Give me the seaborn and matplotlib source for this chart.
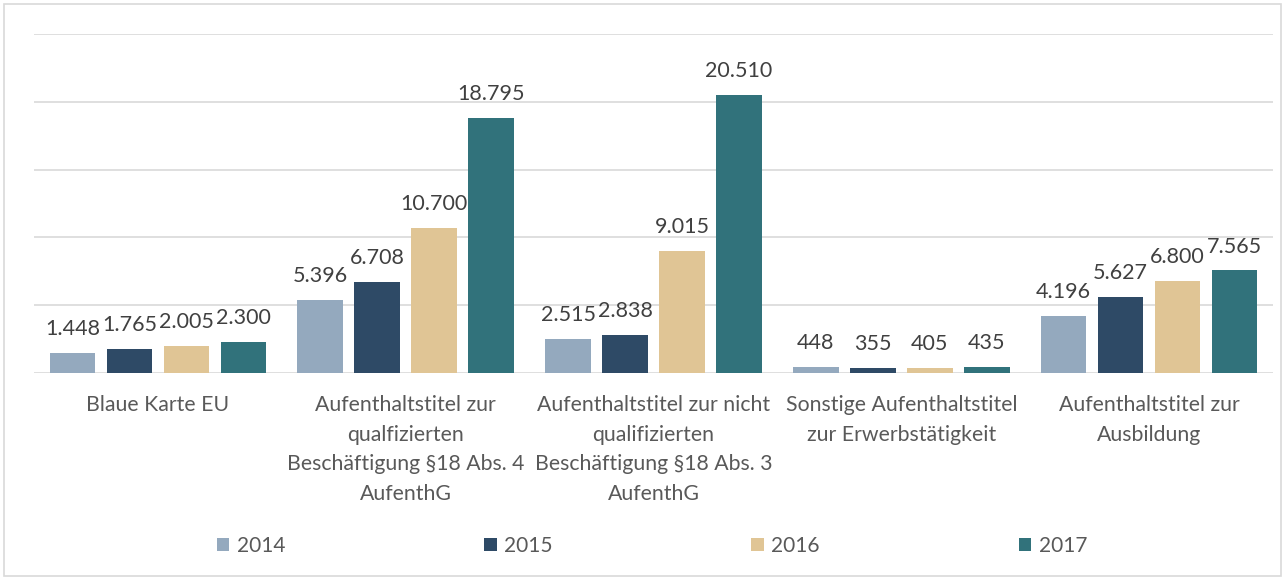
import matplotlib
matplotlib.use("Agg")
import matplotlib.pyplot as plt
import seaborn as sns
import pandas as pd
from matplotlib.patches import Rectangle, Patch

categories = [
    "Blaue Karte EU",
    "Aufenthaltstitel zur\nqualfizierten\nBeschäftigung §18 Abs. 4\nAufenthG",
    "Aufenthaltstitel zur nicht\nqualifizierten\nBeschäftigung §18 Abs. 3\nAufenthG",
    "Sonstige Aufenthaltstitel\nzur Erwerbstätigkeit",
    "Aufenthaltstitel zur\nAusbildung",
]
years = ["2014", "2015", "2016", "2017"]
v2014 = [1448, 5396, 2515, 448, 4196]
v2015 = [1765, 6708, 2838, 355, 5627]
v2016 = [2005, 10700, 9015, 405, 6800]
v2017 = [2300, 18795, 20510, 435, 7565]
colors = ["#94A9BE", "#2E4A66", "#E0C595", "#31727B"]

series = {"2014": v2014, "2015": v2015, "2016": v2016, "2017": v2017}
rows = []
for y in years:
    for c, v in zip(categories, series[y]):
        rows.append({"Kategorie": c, "Jahr": y, "Wert": v})
df = pd.DataFrame(rows)

sns.set_theme(style="white")
plt.rcParams["font.family"] = ["Lato", "DejaVu Sans"]

fig = plt.figure(figsize=(12.85, 5.78), dpi=100)
ax = fig.add_axes([34/1285, 1 - 373/578, (1273 - 34)/1285, (373 - 34)/578])

sns.barplot(data=df, x="Kategorie", y="Wert", hue="Jahr", order=categories,
            hue_order=years, palette=colors, width=0.92, gap=0.2,
            saturation=1, ax=ax, legend=False, edgecolor="none")

ax.set_ylim(0, 25000)
ax.set_xlim(-0.5, len(categories) - 0.5)
ax.set_yticks(range(0, 25001, 5000))
ax.yaxis.grid(True, color="#D9D9D9", linewidth=1.2)
ax.set_axisbelow(True)
ax.set_yticklabels([])
ax.tick_params(axis="y", length=0)
ax.tick_params(axis="x", length=0, pad=16, labelsize=15.3, labelcolor="#595959")
for lbl in ax.get_xticklabels():
    lbl.set_linespacing(1.6)
ax.set_xlabel("")
ax.set_ylabel("")
for s in ["top", "right", "left", "bottom"]:
    ax.spines[s].set_visible(False)

for cont, y in zip(ax.containers, years):
    labels = [f"{v:,}".replace(",", ".") for v in series[y]]
    ax.bar_label(cont, labels=labels, padding=10, fontsize=15.5, color="#404040")

handles = [Patch(facecolor=c, edgecolor="none") for c in colors]
fig.legend(handles, years, loc="center", bbox_to_anchor=(652/1285, 1 - 546/578),
           ncol=4, frameon=False, fontsize=15, handlelength=0.6, handleheight=0.6,
           handletextpad=0.35, columnspacing=9.55, labelcolor="#595959")

fig.patches.append(Rectangle((4/1285, 2/578), 1277/1285, 572/578, transform=fig.transFigure,
                             fill=False, edgecolor="#D9D9D9", linewidth=1.2))

fig.savefig("out.png", dpi=100, facecolor="white")
